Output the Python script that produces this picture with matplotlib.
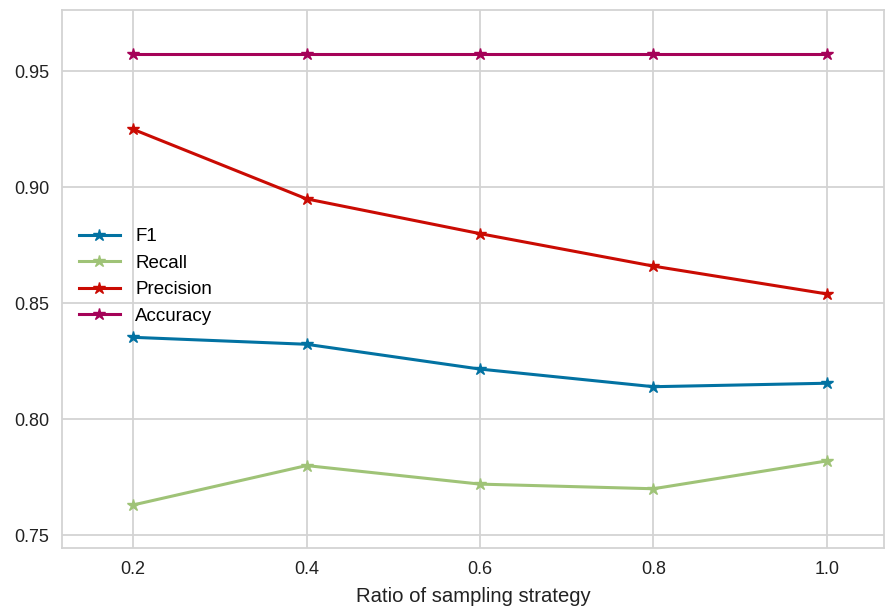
import matplotlib
matplotlib.use('Agg')
import matplotlib.pyplot as plt

ratios = [0.2, 0.4, 0.6, 0.8, 1.0]
f1 = [0.8353, 0.8323, 0.8216, 0.8140, 0.8155]
recall = [0.7630, 0.7800, 0.7720, 0.7700, 0.7820]
precision = [0.9250, 0.8950, 0.8800, 0.8660, 0.8540]
accuracy = [0.9573, 0.9573, 0.9573, 0.9573, 0.9573]

series = [('F1', f1, '#0272a2'),
          ('Recall', recall, '#9fc377'),
          ('Precision', precision, '#ca0b03'),
          ('Accuracy', accuracy, '#a50258')]

plt.rcParams['font.family'] = ['Liberation Sans', 'DejaVu Sans']
fig = plt.figure(figsize=(8.85, 6.07), dpi=100)
ax = fig.add_axes([0.070, 0.097, 0.929, 0.886])
ax.set_facecolor('white')

for name, vals, col in series:
    ax.plot(ratios, vals, marker='*', markersize=9, linewidth=2.2, color=col, label=name)

ax.set_xlim(0.118, 1.066)
ax.set_ylim(0.7444, 0.9763)
ax.set_xticks(ratios)
ax.set_yticks([0.75, 0.80, 0.85, 0.90, 0.95])
ax.set_xticklabels(['0.2', '0.4', '0.6', '0.8', '1.0'])
ax.set_yticklabels(['0.75', '0.80', '0.85', '0.90', '0.95'])
ax.tick_params(labelsize=13, length=0, pad=9, colors='#222222')
ax.grid(True, color='#d3d3d3', linewidth=1.3)
ax.set_axisbelow(True)
for sp in ax.spines.values():
    sp.set_color('#d3d3d3')
    sp.set_linewidth(1.3)
ax.set_xlabel('Ratio of sampling strategy', fontsize=14.6, color='#222222', labelpad=7)

ax.legend(loc='center left', bbox_to_anchor=(0.0, 0.505), frameon=False, fontsize=13.5,
          handlelength=2.2, labelspacing=0.5)

fig.savefig('out.png', dpi=100)
